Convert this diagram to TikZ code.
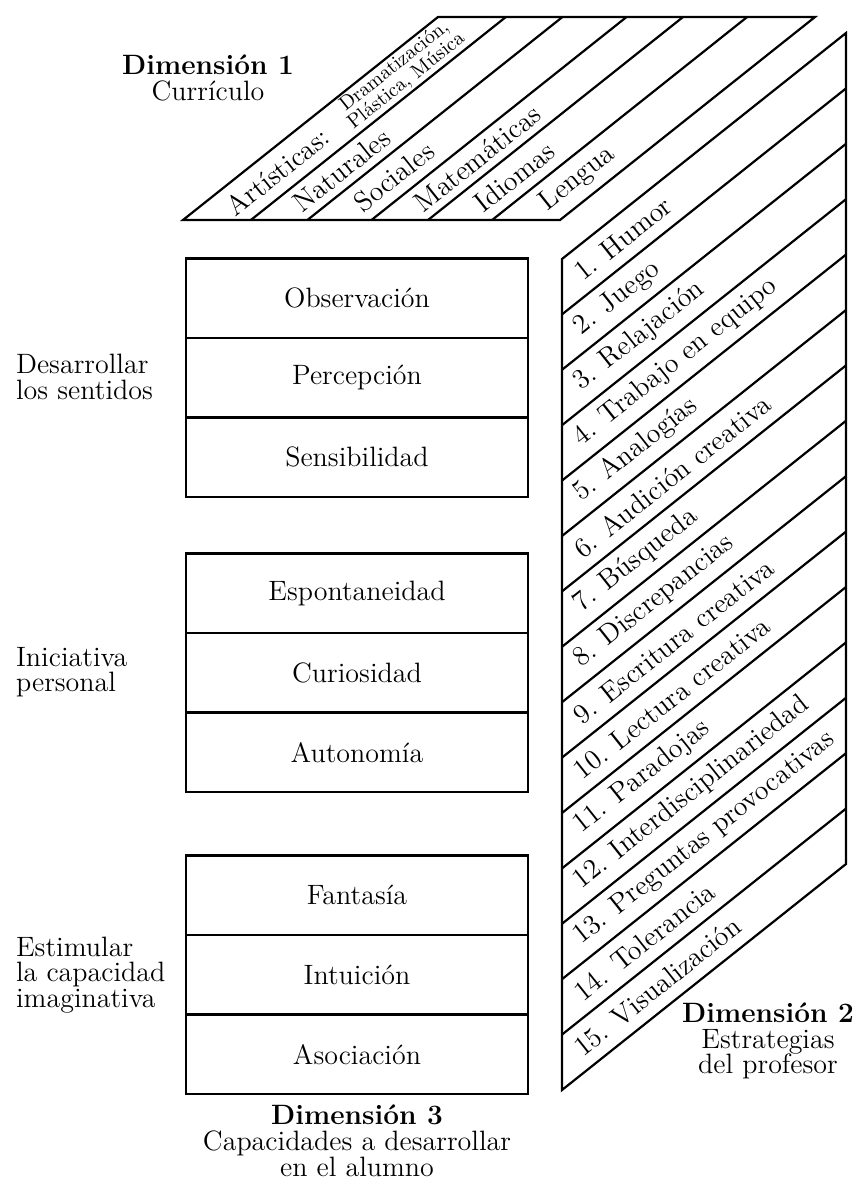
\documentclass[tikz,border=0pt]{standalone}
\usepackage{fontspec}
\usepackage{tikz}
\usetikzlibrary{positioning,calc}

\newcommand{\bodyfont}{\fontsize{14}{12.8}\selectfont\lineskiplimit=-6pt}

\begin{document}
\begin{tikzpicture}[
  x=0.5pt, y=-0.5pt,
  line width=1.1pt,
  cell/.style={draw, line width=1.3pt, minimum width=171pt, minimum height=39.8pt,
               inner sep=0pt, outer sep=0pt, font=\bodyfont},
  side/.style={align=left, anchor=west, inner sep=0pt, font=\bodyfont},
  dimlbl/.style={align=center, inner sep=0pt, font=\bodyfont},
  slant/.style={rotate=38.5, anchor=west, inner sep=1pt, font=\bodyfont}]

  \useasboundingbox (0,0) rectangle (859,1180);

  % Dimension 1: top face
  \coordinate (ta) at (183,220);
  \coordinate (tb) at (560,220);
  \draw (ta) -- (tb) -- ++(255,-203) -- ($(ta)+(255,-203)$) -- cycle;
  \foreach \f in {0.18,0.33,0.50,0.65,0.82}
    \draw ($(ta)!\f!(tb)$) -- ++(255,-203);
  \node[slant] (art) at ($(ta)!0.09!(tb)+0.04*(255,-203)$) {Artísticas:};
  \node[rotate=38.5, align=center, inner sep=0pt, font=\fontsize{10}{9.5}\selectfont]
    (artx) at ($(ta)!0.09!(tb)+0.72*(255,-203)$) {Dramatización,\\Plástica, Música};
  \node[slant] (nat) at ($(ta)!0.255!(tb)+0.06*(255,-203)$) {Naturales};
  \node[slant] (soc) at ($(ta)!0.415!(tb)+0.06*(255,-203)$) {Sociales};
  \node[slant] (mat) at ($(ta)!0.575!(tb)+0.06*(255,-203)$) {Matemáticas};
  \node[slant] (idi) at ($(ta)!0.735!(tb)+0.06*(255,-203)$) {Idiomas};
  \node[slant] (len) at ($(ta)!0.91!(tb)+0.06*(255,-203)$) {Lengua};
  \node[dimlbl] (dim1) at (208,78) {\textbf{Dimensión 1}\\Currículo};

  % Dimension 2: right face
  \coordinate (ra) at (562,259);
  \coordinate (rb) at (562,1090);
  \draw (ra) -- (rb) -- ++(284,-226) -- ($(ra)+(284,-226)$) -- cycle;
  \foreach \i [evaluate=\i as \p using \i/15] in {1,...,14}
    \draw ($(ra)!\p!(rb)$) -- ++(284,-226);
  \foreach \i/\s [evaluate=\i as \p using (\i-0.5)/15] in {1/Humor, 2/Juego,
      3/Relajación, 4/Trabajo en equipo, 5/Analogías, 6/Audición creativa,
      7/Búsqueda, 8/Discrepancias, 9/Escritura creativa, 10/Lectura creativa,
      11/Paradojas, 12/Interdisciplinariedad, 13/Preguntas provocativas,
      14/Tolerancia, 15/Visualización}
    \node[slant] (e\i) at ($(ra)!\p!(rb)+0.045*(284,-226)$) {\i. \s};
  \node[dimlbl] (dim2) at (768,1041) {\textbf{Dimensión 2}\\Estrategias\\del profesor};

  % Dimension 3: front boxes
  \node[cell] (obs) at (357,298) {Observación};
  \node[cell, below=0pt of obs] (per) {Percepción};
  \node[cell, below=0pt of per] (sen) {Sensibilidad};
  \node[cell] (esp) at (357,593) {Espontaneidad};
  \node[cell, below=0pt of esp] (cur) {Curiosidad};
  \node[cell, below=0pt of cur] (aut) {Autonomía};
  \node[cell] (fan) at (357,895) {Fantasía};
  \node[cell, below=0pt of fan] (intu) {Intuición};
  \node[cell, below=0pt of intu] (aso) {Asociación};

  \node[side] (sentidos) at (15,377) {Desarrollar\\los sentidos};
  \node[side] (iniciativa) at (15,672) {Iniciativa\\personal};
  \node[side] (estimular) at (15,975) {Estimular\\la capacidad\\imaginativa};
  \node[dimlbl, below=5pt of aso] (dim3) {\textbf{Dimensión 3}\\Capacidades a desarrollar\\en el alumno};
\end{tikzpicture}
\end{document}
